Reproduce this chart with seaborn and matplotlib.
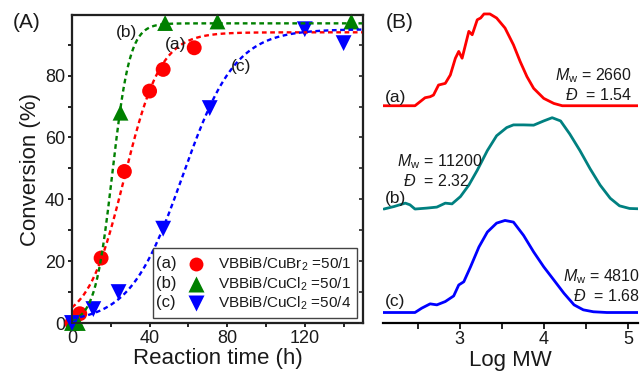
import matplotlib
matplotlib.use("Agg")
import matplotlib.pyplot as plt
from matplotlib.patches import Rectangle
from matplotlib.ticker import MultipleLocator
import numpy as np
import pandas as pd
import seaborn as sns

sns.set_theme(style="ticks")
plt.rcParams["font.family"] = ["Liberation Sans", "DejaVu Sans"]
plt.rcParams["mathtext.fontset"] = "custom"
plt.rcParams["mathtext.rm"] = "Liberation Sans"
plt.rcParams["mathtext.it"] = "Liberation Sans:italic"

# ---- panel A: conversion vs reaction time ----
time_a = [0, 4, 15, 27, 40, 47, 63]
conv_a = [0, 3, 21, 49, 75, 82, 89]
time_b = [0, 3, 25, 48, 75, 144]
conv_b = [0, 0, 68, 97, 97.5, 97.5]
time_c = [0, 11, 24, 47, 71, 120, 140]
conv_c = [0, 4.5, 10, 30.5, 69.5, 95, 90.5]

# Boltzmann fit parameters (plateau, midpoint, width)
fit_top = [94.0, 96.9, 95.0]
fit_x0 = [27.0, 20.8, 57.0]
fit_dx = [9.4, 4.5, 13.6]

series_names = ["(a)", "(b)", "(c)"]
legend_labels = ["VBBiB/CuBr$_2$ =50/1", "VBBiB/CuCl$_2$ =50/1", "VBBiB/CuCl$_2$ =50/4"]

# ---- panel B: GPC traces (relative intensity, %) ----
logm_a = [2.09, 2.47, 2.59, 2.65, 2.69, 2.75, 2.83, 2.89, 2.95, 2.99, 3.03, 3.07, 3.11,
          3.15, 3.21, 3.25, 3.29, 3.36, 3.44, 3.54, 3.64, 3.72, 3.80, 3.88, 4.00, 4.12,
          4.22, 5.12]
int_a = [0, 0, 8.7, 9.8, 11.6, 22.5, 24.3, 33.4, 51.6, 59, 51.6, 66.2, 80.8, 77.1, 93.4,
         95.3, 99.7, 99.7, 95.3, 84.4, 66.2, 48, 31.7, 18.9, 8, 2.5, 0, 0]

logm_b = [2.10, 2.22, 2.355, 2.41, 2.47, 2.61, 2.73, 2.83, 2.91, 3.01, 3.11, 3.21, 3.33,
          3.44, 3.56, 3.64, 3.76, 3.88, 4.00, 4.10, 4.20, 4.31, 4.43, 4.55, 4.67, 4.79,
          4.90, 5.02, 5.12]
int_b = [0.8, 3.5, 7.2, 5.4, 0.8, 1.8, 2.9, 7.2, 6.4, 14.3, 26.8, 42.9, 64.3, 80.4, 89.3,
         92.2, 92.2, 91.9, 96.5, 100, 96.5, 82.2, 64.3, 44.7, 26.8, 12.5, 4.3, 1.4, 1.1]

logm_c = [2.09, 2.47, 2.55, 2.65, 2.73, 2.83, 2.93, 2.99, 3.05, 3.13, 3.23, 3.33, 3.44,
          3.54, 3.64, 3.76, 3.88, 4.00, 4.12, 4.24, 4.36, 4.47, 4.59, 4.75, 5.12]
int_c = [0, 0, 4.7, 9.4, 8.3, 11.9, 18, 29.9, 33.4, 49.6, 71.2, 87.4, 97.1, 100, 98.2,
         83.8, 65.8, 49.6, 35.3, 20.9, 8.3, 2.9, 0.8, 0, 0]

mw_values = ["2660", "11200", "4810"]
dispersity = ["1.54", "2.32", "1.68"]

colors_a = ["#ff0000", "#008000", "#0000ff"]
markers = ["o", "^", "v"]
colors_b = ["#ff0000", "#008080", "#0000ff"]
offsets_b = [236, 123, 11.4]

TXT = "#1a1a1a"

fig = plt.figure(figsize=(6.41, 3.74), dpi=100)
ax1 = fig.add_axes([72 / 641, 51 / 374, 291 / 641, 308 / 374])
ax2 = fig.add_axes([383 / 641, 51 / 374, 255 / 641, 313 / 374])

# panel A markers
pts = pd.DataFrame({
    "t": time_a + time_b + time_c,
    "conv": conv_a + conv_b + conv_c,
    "series": ["a"] * len(time_a) + ["b"] * len(time_b) + ["c"] * len(time_c),
})
for i, key in enumerate(["a", "b", "c"]):
    sub = pts[pts["series"] == key]
    sns.scatterplot(data=sub, x="t", y="conv", marker=markers[i], s=[115, 130, 130][i],
                    color=colors_a[i], edgecolor="none", ax=ax1, clip_on=False, zorder=3 + i,
                    legend=False)

t_fit = np.linspace(0, 150, 300)
for i in range(3):
    y_fit = fit_top[i] / (1 + np.exp((fit_x0[i] - t_fit) / fit_dx[i]))
    ax1.plot(t_fit, y_fit, color=colors_a[i], lw=1.7, ls=(0, (2, 1.5)), zorder=6)

ax1.set_xlim(0, 150)
ax1.set_ylim(0, 99.6)
ax1.xaxis.set_major_locator(MultipleLocator(40))
ax1.xaxis.set_minor_locator(MultipleLocator(20))
ax1.yaxis.set_major_locator(MultipleLocator(20))
ax1.yaxis.set_minor_locator(MultipleLocator(10))
ax1.tick_params(which="both", direction="out", length=3, width=1.2, labelsize=13,
                pad=2, color="black", labelcolor=TXT)
for s in ax1.spines.values():
    s.set_linewidth(1.6)
    s.set_color("black")
ax1.set_xlabel("Reaction time (h)", fontsize=16, labelpad=1, color=TXT)
ax1.set_ylabel("Conversion (%)", fontsize=16, labelpad=3, color=TXT)

# inward ticks on the right spine
ax1r = ax1.twinx()
ax1r.set_ylim(0, 99.6)
ax1r.yaxis.set_major_locator(MultipleLocator(20))
ax1r.yaxis.set_minor_locator(MultipleLocator(10))
ax1r.tick_params(which="both", direction="in", length=3, width=1.2, labelright=False)
ax1r.grid(False)

for i, (tx, ty) in enumerate([(28.3, 94), (53.3, 90), (87, 83)]):
    name = ["(b)", "(a)", "(c)"][i]
    ax1.text(tx, ty, name, fontsize=12.5, ha="center", va="center", color=TXT, zorder=7)

# legend box
ax1.add_patch(Rectangle((0.278, 0.016), 0.701, 0.228, transform=ax1.transAxes,
                        facecolor="white", edgecolor="#444444", lw=1.0, zorder=8))
leg_y = [0.192, 0.127, 0.065]
for i in range(3):
    ax1.text(0.290, leg_y[i], series_names[i], transform=ax1.transAxes, fontsize=12,
             va="center", ha="left", color=TXT, zorder=9)
    ax1.plot([0.425], [leg_y[i]], marker=markers[i], ms=[10, 11, 11][i], color=colors_a[i],
             mec="none", transform=ax1.transAxes, zorder=9, clip_on=False)
    ax1.text(0.500, leg_y[i], legend_labels[i], transform=ax1.transAxes, fontsize=11,
             va="center", ha="left", color=TXT, zorder=9)

fig.text(27 / 641, 1 - 23 / 374, "(A)", fontsize=15, ha="center", va="center", color=TXT)

# panel B
traces = [(logm_a, int_a), (logm_b, int_b), (logm_c, int_c)]
for i, (lx, iy) in enumerate(traces):
    df = pd.DataFrame({"logm": lx, "intensity": np.array(iy) + offsets_b[i]})
    sns.lineplot(data=df, x="logm", y="intensity", color=colors_b[i], lw=2.0, ax=ax2,
                 sort=False, estimator=None)

ax2.set_xlim(2.09, 5.12)
ax2.set_ylim(0, 340)
for side in ["left", "right", "top"]:
    ax2.spines[side].set_visible(False)
ax2.spines["bottom"].set_linewidth(1.6)
ax2.spines["bottom"].set_color("black")
ax2.set_yticks([])
ax2.set_ylabel("")
ax2.xaxis.set_major_locator(MultipleLocator(1))
ax2.xaxis.set_minor_locator(MultipleLocator(0.5))
ax2.tick_params(which="both", direction="out", length=4, width=1.2, labelsize=13, pad=2,
                color="black", labelcolor=TXT)
ax2.set_xlabel("Log MW", fontsize=16, labelpad=1, color=TXT)

ax2.text(2.118, 245, "(a)", fontsize=12.5, va="center", ha="left", color=TXT)
ax2.text(2.118, 135, "(b)", fontsize=12.5, va="center", ha="left", color=TXT)
ax2.text(2.118, 23, "(c)", fontsize=12.5, va="center", ha="left", color=TXT)

ax2.text(5.05, 269, r"$\mathit{M}_{\mathrm{w}}$ = " + mw_values[0], fontsize=11.5,
         ha="right", va="center", color=TXT)
ax2.text(5.05, 248, r"$\mathit{Đ}$  = " + dispersity[0], fontsize=11.5,
         ha="right", va="center", color=TXT)
ax2.text(2.255, 175, r"$\mathit{M}_{\mathrm{w}}$ = " + mw_values[1], fontsize=11.5,
         ha="left", va="center", color=TXT)
ax2.text(2.33, 154, r"$\mathit{Đ}$  = " + dispersity[1], fontsize=11.5,
         ha="left", va="center", color=TXT)
ax2.text(5.145, 50, r"$\mathit{M}_{\mathrm{w}}$ = " + mw_values[2], fontsize=11.5,
         ha="right", va="center", color=TXT)
ax2.text(5.145, 29, r"$\mathit{Đ}$  = " + dispersity[2], fontsize=11.5,
         ha="right", va="center", color=TXT)

fig.text(400 / 641, 1 - 23 / 374, "(B)", fontsize=15, ha="center", va="center", color=TXT)

fig.savefig("out.png", dpi=100)
plt.close(fig)
